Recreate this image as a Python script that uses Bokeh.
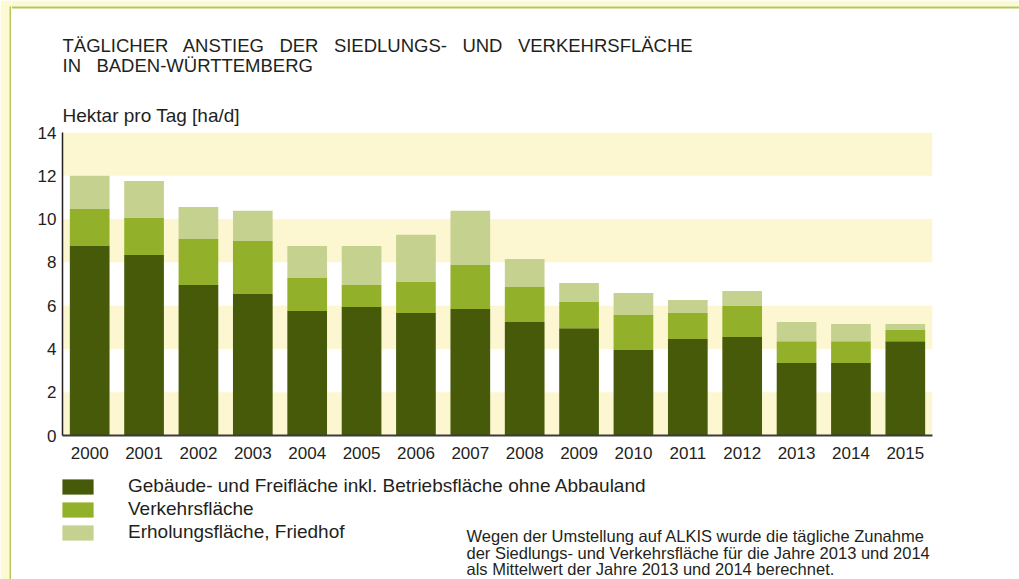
from bokeh.plotting import figure
from bokeh.layouts import row, column
from bokeh.models import (ColumnDataSource, FactorRange, Range1d, BoxAnnotation,
                          Label, Legend, LegendItem, FixedTicker, Title)
from bokeh.embed import file_html
from bokeh.resources import INLINE

# ---- data ----
years = ["2000", "2001", "2002", "2003", "2004", "2005", "2006", "2007",
         "2008", "2009", "2010", "2011", "2012", "2013", "2014", "2015"]
gebaeude = [8.76, 8.34, 6.95, 6.54, 5.75, 5.94, 5.66, 5.84,
            5.24, 4.96, 3.95, 4.46, 4.55, 3.35, 3.35, 4.36]
verkehr = [1.71, 1.71, 2.13, 2.45, 1.53, 1.01, 1.43, 2.04,
           1.62, 1.21, 1.62, 1.20, 1.43, 1.01, 1.01, 0.51]
erholung = [1.53, 1.71, 1.48, 1.39, 1.48, 1.81, 2.18, 2.50,
            1.30, 0.88, 1.01, 0.60, 0.70, 0.88, 0.79, 0.28]
series_names = ["Gebäude- und Freifläche inkl. Betriebsfläche ohne Abbauland",
                "Verkehrsfläche",
                "Erholungsfläche, Friedhof"]
y_ticks = [0, 2, 4, 6, 8, 10, 12, 14]
title_lines = ["TÄGLICHER\u00a0\u00a0 ANSTIEG\u00a0\u00a0 DER\u00a0\u00a0 SIEDLUNGS-\u00a0\u00a0 UND\u00a0\u00a0 VERKEHRSFLÄCHE",
               "IN\u00a0\u00a0 BADEN-WÜRTTEMBERG"]
y_label = "Hektar pro Tag [ha/d]"
footnote = ["Wegen der Umstellung auf ALKIS wurde die tägliche Zunahme",
            "der Siedlungs- und Verkehrsfläche für die Jahre 2013 und 2014",
            "als Mittelwert der Jahre 2013 und 2014 berechnet."]

colors = ["#465a09", "#93b02b", "#c5d18f"]
band_yellow = "#fcf7d0"
page_yellow = "#fdf9d2"
edge_green = "#b3c85a"
text_col = "#231f20"
FONT = "Liberation Sans"

W, H = 1019, 579
STRIP = 11              # left decorative strip width
TOP_H = 90              # title area height
BOT_Y = 470             # page y where the legend area starts
FL, FR, FT, FB = 62, 932, 132, 435   # chart frame edges in page px
CW = W - STRIP
BASE_FIX = 5            # svg baseline correction for Labels


def blank(width, height, x0, x1, y0, y1, **kw):
    f = figure(width=width, height=height, x_range=Range1d(x0, x1),
               y_range=Range1d(y1, y0), output_backend="svg", toolbar_location=None,
               x_axis_type=None, y_axis_type=None, title=None, **kw)
    f.outline_line_color = None
    f.xgrid.visible = False
    f.ygrid.visible = False
    f.background_fill_color = "white"
    f.border_fill_color = "white"
    return f


# ---- left decorative strip (full height) ----
strip = blank(STRIP, H, 0, STRIP, 0, H, min_border=0)
strip.quad(left=[0, 9, 9], right=[9, STRIP, STRIP], top=[0, 0, 6], bottom=[H, 6, H],
           color=[page_yellow, page_yellow, edge_green], line_color=None)

# ---- title area ----
top = blank(CW, TOP_H, STRIP, W, 0, TOP_H, min_border=0)
top.quad(left=[STRIP, STRIP], right=[W, W], top=[0, 6], bottom=[6, 8],
         color=[page_yellow, edge_green], line_color=None)
for i, line in enumerate(title_lines):
    top.add_layout(Label(x=FL, y=49.5 + 20 * i - BASE_FIX, text=line, text_font=FONT,
                         text_font_size="18.5px", text_color=text_col,
                         text_baseline="alphabetic"))

# ---- main chart ----
src = ColumnDataSource(dict(year=years, g=gebaeude, v=verkehr, e=erholung))
p = figure(width=CW, height=BOT_Y - TOP_H, x_range=FactorRange(factors=years),
           y_range=Range1d(0, 14), output_backend="svg", toolbar_location=None,
           min_border_left=FL - STRIP, min_border_right=W - FR,
           min_border_top=FT - TOP_H, min_border_bottom=BOT_Y - FB)
p.outline_line_color = None
p.background_fill_color = "white"
p.border_fill_color = "white"
p.xgrid.visible = False
p.ygrid.visible = False

for b in y_ticks[:-1]:
    if (b // 2) % 2 == 0:
        p.add_layout(BoxAnnotation(bottom=b, top=b + 2, fill_color=band_yellow,
                                   fill_alpha=1, line_color=None, level="underlay"))

rs = p.vbar_stack(["g", "v", "e"], x="year", width=0.73, source=src,
                  color=colors, line_color=None)

p.yaxis.ticker = FixedTicker(ticks=y_ticks)
p.yaxis.axis_line_color = text_col
p.yaxis.axis_line_width = 1.5
p.yaxis.major_tick_line_color = None
p.yaxis.minor_tick_line_color = None
p.yaxis.major_tick_out = 0
p.yaxis.major_tick_in = 0
p.yaxis.major_label_standoff = 6
p.yaxis.major_label_text_font = FONT
p.yaxis.major_label_text_font_size = "17px"
p.yaxis.major_label_text_color = text_col

p.xaxis.axis_line_color = "#3a3a3a"
p.xaxis.axis_line_width = 2
p.xaxis.major_tick_line_color = None
p.xaxis.minor_tick_line_color = None
p.xaxis.major_tick_out = 0
p.xaxis.major_tick_in = 0
p.xaxis.major_label_standoff = 11
p.xaxis.major_label_text_font = FONT
p.xaxis.major_label_text_font_size = "17px"
p.xaxis.major_label_text_color = text_col

p.add_layout(Title(text=y_label, align="left", text_font=FONT, text_font_size="19px",
                   text_font_style="normal", text_color=text_col, standoff=14), "above")

# ---- legend + footnote area (frame aligned with the chart frame) ----
bot = blank(CW, H - BOT_Y, FL, FR, BOT_Y, H,
            min_border_left=FL - STRIP, min_border_right=W - FR,
            min_border_top=0, min_border_bottom=0)
nan = float("nan")
dummies = [bot.vbar(x=[nan], top=[nan], width=1, color=c, line_color=None) for c in colors]
legend = Legend(items=[LegendItem(label=n, renderers=[r]) for n, r in zip(series_names, dummies)],
                location=(-4, 36), orientation="vertical",
                glyph_width=39, glyph_height=19, label_height=19, spacing=1,
                label_standoff=31, padding=0, margin=0,
                border_line_color=None, background_fill_alpha=0,
                label_text_font=FONT, label_text_font_size="19px",
                label_text_color=text_col)
bot.add_layout(legend, "center")
for i, line in enumerate(footnote):
    bot.add_layout(Label(x=466, y=540.5 + i * 16.5 - BASE_FIX, text=line, text_font=FONT,
                         text_font_size="16.5px", text_color=text_col,
                         text_baseline="alphabetic"))

layout = row(strip, column(top, column(p, bot)))
open("out.html", "w").write(file_html(layout, INLINE))
